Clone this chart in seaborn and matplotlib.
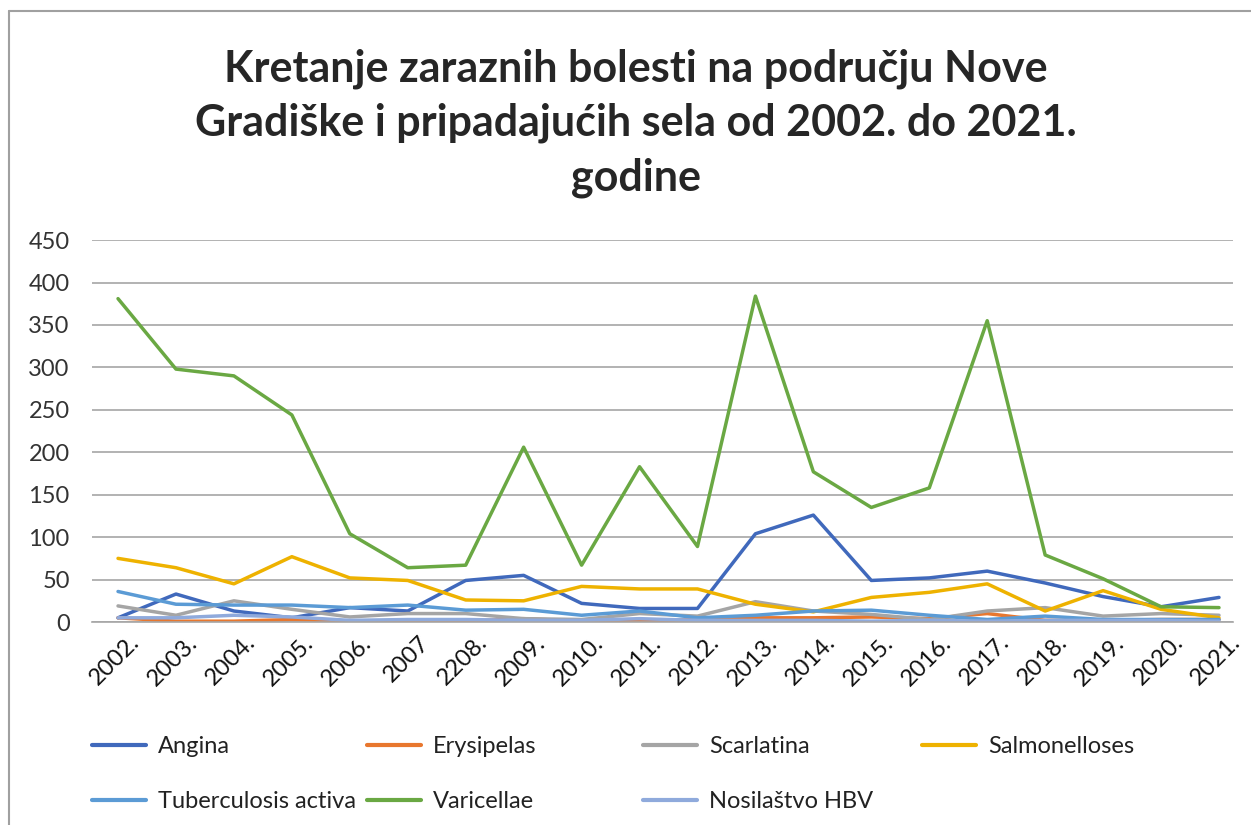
import numpy as np
import pandas as pd
import seaborn as sns
import matplotlib.pyplot as plt
from matplotlib.lines import Line2D
from matplotlib.transforms import ScaledTranslation

# values
years = ["2002.", "2003.", "2004.", "2005.", "2006.", "2007", "2208.", "2009.", "2010.", "2011.",
         "2012.", "2013.", "2014.", "2015.", "2016.", "2017.", "2018.", "2019.", "2020.", "2021."]

angina = [5, 33, 13, 5, 17, 13, 49, 55, 22, 16, 16, 104, 126, 49, 52, 60, 46, 30, 18, 29]
erysipelas = [5, 1, 1, 3, 1, 1, 1, 4, 1, 1, 3, 5, 5, 6, 4, 10, 2, 2, 3, 3]
scarlatina = [19, 8, 25, 15, 6, 10, 10, 4, 3, 10, 7, 24, 13, 9, 3, 13, 17, 7, 10, 8]
salmonelloses = [75, 64, 45, 77, 52, 49, 26, 25, 42, 39, 39, 21, 12, 29, 35, 45, 13, 37, 15, 5]
tuberculosis = [36, 21, 20, 20, 17, 20, 14, 15, 8, 13, 5, 8, 13, 14, 8, 3, 7, 3, 3, 3]
varicellae = [381, 298, 290, 244, 104, 64, 67, 206, 67, 183, 89, 384, 177, 135, 158, 355, 79, 51, 18, 17]
hbv = [5, 5, 8, 6, 2, 3, 3, 2, 2, 4, 2, 2, 2, 1, 2, 1, 2, 2, 2, 1]

names = ["Angina", "Erysipelas", "Scarlatina", "Salmonelloses",
         "Tuberculosis activa", "Varicellae", "Nosilaštvo HBV"]
series = [angina, erysipelas, scarlatina, salmonelloses, tuberculosis, varicellae, hbv]
colors = ["#4069BC", "#E8772E", "#A5A5A5", "#EEB200", "#5B9BD5", "#6AA843", "#8FAADC"]

frames = []
for name, vals in zip(names, series):
    frames.append(pd.DataFrame({"x": np.arange(len(years)), "value": vals, "bolest": name}))
df = pd.concat(frames, ignore_index=True)

sns.set_style("white")
plt.rcParams["font.family"] = ["Lato", "DejaVu Sans"]

fig = plt.figure(figsize=(12.51, 8.25), dpi=100)
ax = fig.add_axes([0.0735, 0.246, 0.9125, 0.463])

sns.lineplot(data=df, x="x", y="value", hue="bolest", hue_order=names,
             palette=dict(zip(names, colors)), linewidth=2.5, legend=False, ax=ax)

ax.set_xlim(-0.45, len(years) - 0.75)
ax.set_ylim(0, 450)
ax.set_yticks(range(0, 451, 50))
ax.set_xticks(np.arange(len(years)))
ax.set_xticklabels(years, rotation=45, ha="right", rotation_mode="anchor")
ax.tick_params(axis="y", labelsize=17, pad=16, length=0, colors="#333333")
ax.tick_params(axis="x", labelsize=17, pad=7, length=0, colors="#111111")
for lbl in ax.get_xticklabels():
    lbl.set_transform(lbl.get_transform() + ScaledTranslation(0.11, 0, fig.dpi_scale_trans))
ax.yaxis.grid(True, color="#A6A6A6", linewidth=1.2)
ax.set_axisbelow(True)
for s in ["top", "right", "left"]:
    ax.spines[s].set_visible(False)
ax.spines["bottom"].set_color("#A6A6A6")
ax.spines["bottom"].set_linewidth(1.2)
ax.set_xlabel("")
ax.set_ylabel("")

fig.text(0.508, 0.851, "Kretanje zaraznih bolesti na području Nove\nGradiške i pripadajućih sela od 2002. do 2021.\ngodine",
         ha="center", va="center", fontsize=31, fontweight="bold", linespacing=1.42)

# legend laid out like Excel: four fixed columns, two rows
columns = [[0, 4], [1, 5], [2, 6], [3]]
col_x = [92, 367, 643, 922]
for idx, cx in zip(columns, col_x):
    handles = [Line2D([], [], color=colors[i], linewidth=3) for i in idx]
    leg = fig.legend(handles, [names[i] for i in idx], loc="upper left",
                     bbox_to_anchor=(cx / 1251, 1 - 736 / 825), bbox_transform=fig.transFigure,
                     frameon=False, fontsize=17, handlelength=2.3, handletextpad=0.5,
                     labelspacing=1.45, borderpad=0, borderaxespad=0)
    for t in leg.get_texts():
        t.set_color("#222222")

# chart frame
fig.add_artist(Line2D([9 / 1251, 1], [1 - 11 / 825] * 2, transform=fig.transFigure, color="#A0A0A0", linewidth=1.5))
fig.add_artist(Line2D([9 / 1251] * 2, [0, 1 - 11 / 825], transform=fig.transFigure, color="#A0A0A0", linewidth=1.5))

fig.savefig("out.png", dpi=100)
